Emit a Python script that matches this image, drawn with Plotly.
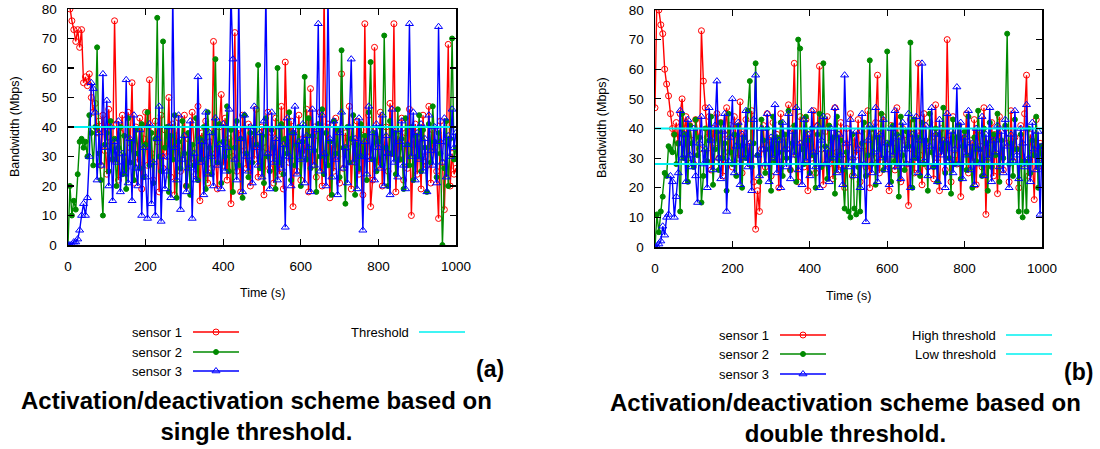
import plotly.graph_objects as go

# ---------------- data ----------------
time_s = list(range(0, 1001, 5))  # sampling grid (201 samples, every 5 s)

# Panel (a): single threshold
s1_a = [85, 80, 76, 73, 69, 73, 67, 73, 55, 57, 54, 58, 50, 45, 48, 38, 42, 27, 44, 32,
        24, 46, 35, 29, 76, 41, 22, 38, 44, 30, 26, 45, 33, 55, 21, 40, 28, 43, 19, 36,
        45, 27, 56, 31, 22, 42, 35, 18, 44, 26, 39, 30, 50, 23, 41, 17, 37, 43, 25, 32,
        44, 20, 36, 28, 45, 33, 24, 47, 15, 38, 29, 42, 21, 35, 26, 69, 31, 19, 40, 51,
        27, 43, 22, 36, 14, 30, 72, 25, 39, 18, 44, 32, 26, 41, 20, 37, 29, 46, 23, 34,
        40, 17, 33, 45, 26, 38, 21, 43, 30, 24, 47, 19, 62, 35, 28, 42, 13, 39, 25, 44,
        22, 36, 31, 46, 18, 53, 27, 40, 23, 37, 45, 20, 85, 29, 41, 16, 34, 25, 43, 30,
        21, 58, 26, 38, 33, 47, 19, 35, 28, 42, 24, 39, 17, 75, 30, 44, 13, 22, 67, 36,
        27, 45, 20, 33, 40, 25, 48, 31, 75, 18, 37, 29, 43, 22, 38, 26, 46, 10, 34, 41,
        24, 36, 19, 44, 30, 27, 47, 21, 39, 33, 25, 9, 42, 28, 12, 35, 68, 20, 31, 24,
        26]
s2_a = [0, 20, 10, 15, 12, 24, 35, 36, 33, 35, 30, 44, 38, 27, 40, 67, 31, 22, 10, 34,
        38, 25, 42, 29, 36, 20, 33, 40, 24, 37, 19, 43, 28, 35, 22, 39, 31, 26, 41, 23,
        34, 45, 27, 38, 21, 36, 77, 30, 25, 69, 33, 40, 18, 37, 29, 44, 16, 35, 26, 42,
        31, 20, 38, 17, 34, 27, 43, 22, 36, 29, 40, 19, 45, 33, 24, 38, 63, 28, 41, 21,
        35, 30, 47, 25, 39, 18, 33, 42, 27, 36, 16, 44, 31, 23, 38, 28, 40, 34, 61, 26,
        37, 21, 43, 30, 25, 39, 33, 19, 60, 28, 41, 24, 36, 31, 45, 22, 38, 27, 34, 40,
        20, 35, 57, 29, 43, 26, 37, 32, 18, 41, 30, 46, 24, 38, 27, 35, 17, 42, 31, 39,
        23, 66, 33, 14, 40, 28, 36, 44, 17, 34, 26, 41, 30, 37, 22, 45, 62, 29, 38, 25,
        35, 40, 27, 71, 33, 20, 42, 31, 38, 24, 46, 29, 36, 19, 43, 34, 27, 40, 22, 37,
        30, 44, 25, 39, 33, 18, 41, 28, 47, 35, 23, 38, 31, 0, 26, 42, 20, 36, 70, 29,
        33]
s3_a = [0, 0, 0, 1, 1, 2, 5, 10, 14, 10, 16, 30, 55, 53, 45, 22, 38, 27, 58, 33,
        49, 20, 40, 15, 35, 28, 42, 18, 31, 24, 56, 21, 36, 15, 44, 26, 20, 39, 10, 33,
        23, 9, 41, 14, 28, 10, 36, 47, 8, 30, 19, 25, 40, 16, 85, 33, 22, 44, 12, 29,
        37, 18, 26, 42, 9, 31, 22, 57, 28, 35, 17, 45, 24, 38, 30, 20, 43, 27, 34, 19,
        41, 25, 33, 46, 85, 63, 29, 22, 85, 36, 18, 44, 30, 25, 40, 21, 47, 33, 27, 38,
        23, 42, 85, 31, 19, 45, 28, 36, 22, 40, 26, 34, 6, 43, 30, 20, 38, 47, 24, 35,
        29, 41, 21, 37, 33, 18, 46, 27, 39, 75, 25, 44, 31, 20, 85, 36, 23, 42, 29, 17,
        38, 45, 26, 33, 21, 40, 63, 28, 36, 19, 43, 30, 5, 35, 24, 47, 29, 38, 22, 41,
        33, 26, 44, 20, 37, 31, 17, 46, 28, 39, 23, 35, 42, 27, 19, 34, 75, 30, 45, 22,
        38, 29, 41, 25, 36, 18, 44, 32, 27, 40, 21, 74, 35, 28, 43, 23, 37, 30, 46, 33,
        38]
threshold_a = 40

# Panel (b): double threshold
s1_b = [47, 85, 80, 75, 72, 60, 55, 51, 45, 40, 38, 42, 35, 45, 50, 38, 44, 30, 41, 36,
        28, 43, 39, 33, 73, 56, 47, 37, 44, 26, 40, 35, 45, 30, 42, 24, 38, 47, 32, 41,
        27, 44, 36, 30, 49, 25, 39, 43, 34, 28, 46, 22, 6, 19, 12, 33, 41, 27, 45, 36,
        24, 42, 31, 38, 20, 45, 29, 37, 33, 48, 26, 40, 62, 31, 22, 44, 35, 27, 43, 19,
        38, 30, 46, 25, 41, 61, 33, 21, 39, 44, 28, 36, 23, 47, 32, 26, 42, 35, 20, 40,
        29, 45, 24, 37, 31, 43, 22, 39, 34, 27, 46, 20, 38, 30, 42, 58, 25, 36, 44, 28,
        33, 19, 41, 35, 26, 47, 30, 22, 40, 36, 28, 14, 43, 33, 25, 39, 62, 31, 21, 45,
        34, 27, 42, 37, 23, 48, 30, 19, 40, 33, 26, 70, 36, 22, 44, 31, 28, 41, 17, 38,
        32, 45, 25, 36, 29, 43, 21, 39, 34, 27, 47, 11, 35, 30, 42, 24, 38, 18, 44, 31,
        26, 40, 35, 22, 46, 29, 37, 33, 20, 41, 28, 45, 58, 24, 38, 31, 16, 43, 27, 35,
        30]
s2_b = [0, 11, 5, 12, 17, 25, 24, 34, 33, 32, 38, 28, 35, 12, 45, 30, 38, 22, 41, 35,
        27, 43, 31, 37, 15, 24, 40, 29, 36, 44, 21, 33, 39, 26, 42, 30, 35, 19, 45, 32,
        28, 38, 24, 41, 34, 20, 37, 30, 46, 56, 27, 35, 62, 31, 22, 43, 36, 25, 40, 33,
        19, 44, 29, 37, 32, 42, 24, 38, 30, 46, 26, 35, 41, 22, 70, 67, 33, 28, 44, 36,
        25, 40, 31, 20, 38, 45, 27, 62, 34, 23, 41, 30, 37, 18, 44, 29, 36, 26, 13, 32,
        12, 10, 38, 13, 11, 27, 12, 35, 42, 24, 31, 63, 28, 40, 21, 37, 33, 45, 26, 30,
        66, 35, 22, 41, 29, 38, 17, 44, 31, 26, 39, 34, 69, 20, 43, 30, 37, 24, 42, 28,
        36, 19, 45, 32, 27, 40, 22, 38, 33, 47, 25, 35, 30, 18, 43, 28, 37, 41, 23, 34,
        39, 26, 44, 31, 20, 37, 29, 46, 33, 24, 40, 35, 19, 42, 27, 38, 31, 45, 22, 36,
        30, 41, 72, 28, 35, 24, 43, 33, 12, 38, 10, 29, 12, 40, 25, 36, 31, 44, 20, 34,
        28]
s3_b = [0, 0, 1, 2, 7, 4, 10, 11, 24, 22, 10, 17, 25, 46, 30, 38, 22, 43, 31, 27,
        40, 24, 15, 35, 44, 28, 33, 20, 47, 36, 26, 41, 56, 30, 23, 39, 45, 12, 29, 37,
        50, 25, 34, 42, 21, 38, 30, 46, 27, 35, 19, 43, 58, 31, 24, 40, 33, 28, 45, 22,
        37, 30, 48, 25, 36, 20, 42, 33, 27, 45, 23, 39, 31, 47, 26, 35, 21, 43, 29, 38,
        24, 46, 32, 27, 41, 20, 36, 44, 28, 33, 22, 40, 30, 47, 25, 38, 31, 21, 58, 35,
        27, 43, 30, 24, 39, 33, 20, 45, 28, 8.5, 36, 41, 25, 32, 47, 22, 38, 30, 43, 26,
        35, 21, 40, 31, 46, 27, 37, 23, 42, 33, 28, 45, 20, 38, 30, 44, 25, 36, 62, 29,
        41, 24, 34, 47, 27, 38, 22, 43, 31, 36, 20, 45, 29, 39, 25, 33, 54, 28, 42, 23,
        37, 31, 46, 26, 35, 21, 40, 33, 28, 44, 24, 38, 30, 47, 22, 36, 32, 41, 27, 39,
        25, 43, 34, 20, 38, 29, 46, 31, 23, 40, 35, 27, 48, 30, 22, 42, 33, 26, 39, 11,
        34]
high_threshold_b = 40
low_threshold_b = 28

for _s in (s1_a, s2_a, s3_a, s1_b, s2_b, s3_b):
    assert len(_s) == len(time_s), len(_s)

x_ticks = [0, 200, 400, 600, 800, 1000]
y_ticks = [0, 10, 20, 30, 40, 50, 60, 70, 80]

series_names = ["sensor 1", "sensor 2", "sensor 3"]
panel_titles = ["Activation/deactivation scheme based on<br>single threshold.",
                "Activation/deactivation scheme based on<br>double threshold."]
panel_tags = ["(a)", "(b)"]

# ---------------- styles ----------------
RED, GREEN, BLUE, CYAN = "#ff0000", "#008a00", "#0000ff", "#00f0f0"
FONT = "Liberation Sans, Arial, sans-serif"
styles = [
    dict(color=RED, symbol="circle-open", size=6),
    dict(color=GREEN, symbol="circle", size=5),
    dict(color=BLUE, symbol="triangle-up-open", size=7),
]

W, H = 1100, 449
fig = go.Figure()

def add_series(xa, ya, values):
    for vals, st, name in zip(values, styles, series_names):
        fig.add_trace(go.Scatter(
            x=time_s, y=vals, mode="lines+markers", name=name,
            xaxis=xa, yaxis=ya, showlegend=False, cliponaxis=True,
            line=dict(color=st["color"], width=1.4),
            marker=dict(symbol=st["symbol"], size=st["size"], color=st["color"],
                        line=dict(color=st["color"], width=1))))

add_series("x", "y", [s1_a, s2_a, s3_a])
fig.add_trace(go.Scatter(x=[0, 1000], y=[threshold_a, threshold_a], mode="lines",
                         xaxis="x", yaxis="y", showlegend=False,
                         line=dict(color=CYAN, width=2)))
add_series("x2", "y2", [s1_b, s2_b, s3_b])
for v in (high_threshold_b, low_threshold_b):
    fig.add_trace(go.Scatter(x=[0, 1000], y=[v, v], mode="lines",
                             xaxis="x2", yaxis="y2", showlegend=False,
                             line=dict(color=CYAN, width=2)))

# ---------------- legend (custom, gnuplot style) ----------------
def legend_entry(x_text_right, x0, x1, y, label, st=None, color=None):
    c = st["color"] if st else color
    fig.add_trace(go.Scatter(x=[x0, x1], y=[y, y], mode="lines", xaxis="x3", yaxis="y3",
                             showlegend=False, hoverinfo="skip",
                             line=dict(color=c, width=1.3)))
    if st:
        fig.add_trace(go.Scatter(x=[(x0 + x1) / 2], y=[y], mode="markers",
                                 xaxis="x3", yaxis="y3", showlegend=False, hoverinfo="skip",
                                 marker=dict(symbol=st["symbol"], size=st["size"], color=c,
                                             line=dict(color=c, width=1))))
    fig.add_annotation(x=x_text_right / W, y=1 - y / H, xref="paper", yref="paper",
                       text=label, showarrow=False, xanchor="right", yanchor="middle",
                       font=dict(family=FONT, size=13, color="black"))

rows_a = [332, 352, 371]
for name, st, yy in zip(series_names, styles, rows_a):
    legend_entry(184, 193, 239, yy, name, st=st)
legend_entry(411, 419, 465, 332, "Threshold", color=CYAN)

rows_b = [335, 354, 374]
for name, st, yy in zip(series_names, styles, rows_b):
    legend_entry(771, 780, 826, yy, name, st=st)
legend_entry(998, 1006, 1052, 335, "High threshold", color=CYAN)
legend_entry(998, 1006, 1052, 354, "Low threshold", color=CYAN)

# ---------------- axes ----------------
def axis_common():
    return dict(showline=True, linecolor="black", linewidth=1.5, mirror="allticks",
                ticks="inside", ticklen=6, tickwidth=1.2, tickcolor="black",
                showgrid=False, zeroline=False, automargin=False,
                tickfont=dict(family=FONT, size=13.5, color="black"))

xa = dict(axis_common(), domain=[68 / W, 456 / W], range=[0, 1000], tickvals=x_ticks,
          anchor="y", ticklabelstandoff=8)
ya = dict(axis_common(), domain=[1 - 245 / H, 1 - 9 / H], range=[0, 80], tickvals=y_ticks,
          anchor="x", ticklabelstandoff=7)
xb = dict(axis_common(), domain=[655 / W, 1042 / W], range=[0, 1000], tickvals=x_ticks,
          anchor="y2", ticklabelstandoff=8)
yb = dict(axis_common(), domain=[1 - 247 / H, 1 - 10 / H], range=[0, 80], tickvals=y_ticks,
          anchor="x2", ticklabelstandoff=7)

fig.update_layout(
    width=W, height=H, autosize=False,
    margin=dict(l=0, r=0, t=0, b=0, autoexpand=False),
    paper_bgcolor="white", plot_bgcolor="rgba(0,0,0,0)",
    showlegend=False, hovermode=False,
    xaxis=xa, yaxis=ya, xaxis2=xb, yaxis2=yb,
    xaxis3=dict(domain=[0, 1], range=[0, W], visible=False, anchor="y3", fixedrange=True,
                automargin=False),
    yaxis3=dict(domain=[0, 1], range=[H, 0], visible=False, anchor="x3", fixedrange=True,
                automargin=False),
)

# axis titles
for (xc, yc, txt, ang) in [(15, 127, "Bandwidth (Mbps)", -90), (262, 293, "Time (s)", 0),
                           (602, 128, "Bandwidth (Mbps)", -90), (848, 296, "Time (s)", 0)]:
    fig.add_annotation(x=xc / W, y=1 - yc / H, xref="paper", yref="paper", text=txt,
                       textangle=ang, showarrow=False, xanchor="center", yanchor="middle",
                       font=dict(family=FONT, size=12.5, color="black"))

# panel tags and captions
for (xr, yc, tag) in [(506, 369, panel_tags[0]), (1095, 372, panel_tags[1])]:
    fig.add_annotation(x=xr / W, y=1 - yc / H, xref="paper", yref="paper", text="<b>%s</b>" % tag,
                       showarrow=False, xanchor="right", yanchor="middle",
                       font=dict(family=FONT, size=23, color="black"))
for (xc, yc, txt) in [(256, 416, panel_titles[0]), (845, 418, panel_titles[1])]:
    fig.add_annotation(x=xc / W, y=1 - yc / H, xref="paper", yref="paper",
                       text="<b>%s</b>" % txt, showarrow=False, xanchor="center",
                       yanchor="middle", align="center",
                       font=dict(family=FONT, size=24, color="black"))

fig.write_html("out.html",
               config={"displayModeBar": False, "staticPlot": True},
               post_script="document.body.style.margin='0px';"
                           "document.body.style.overflow='hidden';")
